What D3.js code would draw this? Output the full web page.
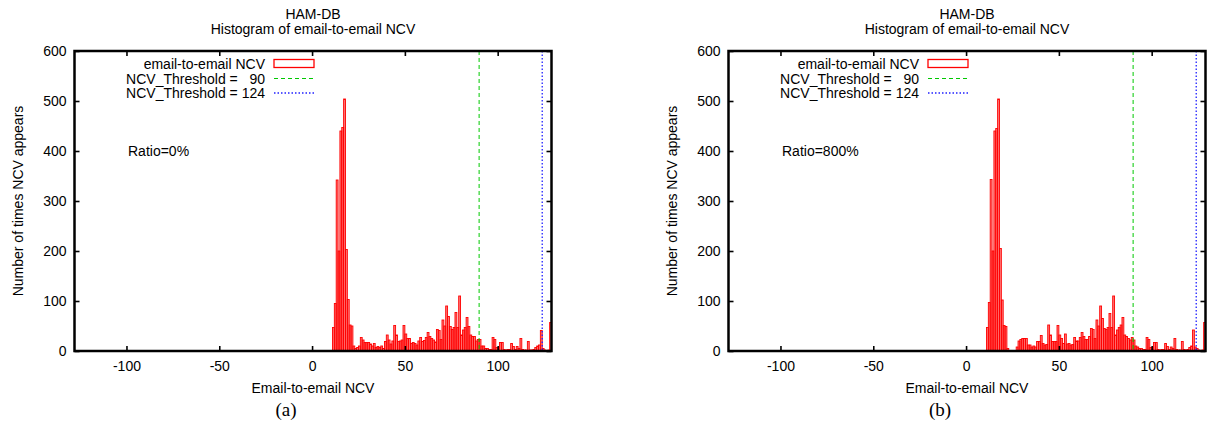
<!DOCTYPE html>
<html>
<head>
<meta charset="utf-8">
<script src="https://cdn.jsdelivr.net/npm/d3@7"></script>
<style>
body { margin: 0; background: #fff; }
text { font-family: "Liberation Sans", Arial, Helvetica, sans-serif; fill: #000; }
</style>
</head>
<body>
<svg id="canvas" width="1213" height="430"></svg>
<script>
// first NCV bin of the histogram, every count below belongs to one bin of width 1
let binStart = 11

// counts per NCV bin, 11 .. 128, panel (a) ratio 0%
let countsA = [
  47, 95, 342, 200, 440, 447, 504, 203, 103, 52,
  50, 10, 5, 7, 10, 27, 22, 17, 17, 17,
  14, 10, 15, 7, 9, 7, 10, 5, 19, 32,
  22, 14, 20, 51, 32, 19, 20, 22, 51, 34,
  25, 25, 15, 17, 15, 12, 20, 27, 19, 21,
  27, 37, 29, 25, 22, 18, 43, 41, 23, 62,
  50, 90, 69, 49, 43, 47, 77, 47, 110, 32,
  42, 47, 67, 49, 32, 29, 29, 20, 23, 23,
  10, 10, 5, 5, 3, 3, 27, 23, 7, 2,
  17, 17, 3, 2, 3, 3, 15, 9, 3, 9,
  5, 25, 3, 2, 2, 19, 2, 2, 3, 7,
  10, 12, 41, 5, 2, 0, 2, 57
]

// counts per NCV bin, 11 .. 128, panel (b) ratio 800%
let countsB = [
  47, 97, 343, 200, 440, 445, 504, 205, 102, 51,
  49, 5, 0, 0, 0, 0, 8, 20, 23, 25,
  25, 25, 12, 12, 8, 10, 8, 19, 19, 31,
  15, 12, 13, 52, 32, 19, 19, 19, 51, 32,
  25, 15, 34, 14, 15, 12, 13, 27, 20, 20,
  27, 37, 29, 23, 23, 29, 45, 43, 25, 62,
  50, 90, 65, 45, 43, 47, 75, 47, 110, 32,
  42, 47, 52, 67, 32, 29, 25, 22, 27, 22,
  10, 8, 5, 5, 3, 3, 27, 23, 7, 3,
  17, 17, 3, 2, 3, 3, 15, 9, 3, 8,
  5, 25, 3, 2, 2, 19, 3, 2, 3, 7,
  10, 42, 8, 5, 2, 0, 2, 57
]

let thresholds = [90, 124]
let xTicks = [-100, -50, 0, 50, 100]
let yTicks = [0, 100, 200, 300, 400, 500, 600]
let titleLines = ['HAM-DB', 'Histogram of email-to-email NCV']
let legendLabels = ['email-to-email NCV', 'NCV_Threshold =   90', 'NCV_Threshold = 124']
let ratioLabels = ['Ratio=0%', 'Ratio=800%']
let captions = ['(a)', '(b)']

let canvas = d3.select('#canvas')

let drawPanel = (left, counts, ratioText, caption) => {
    let width = 477
    let top = 51
    let bottom = 351
    let g = canvas.append('g')

    let x = d3.scaleLinear().domain([-128, 129]).range([left, left + width])
    let y = d3.scaleLinear().domain([0, 600]).range([bottom, top])

    // histogram boxes
    g.append('g')
        .selectAll('rect')
        .data(counts)
        .enter()
        .append('rect')
        .attr('x', (d, i) => x(binStart + i))
        .attr('width', (d, i) => x(binStart + i + 1) - x(binStart + i))
        .attr('y', (d) => y(d))
        .attr('height', (d) => y(0) - y(d))
        .attr('fill', 'rgba(255,30,30,0.6)')
        .attr('stroke', '#ff0000')
        .attr('stroke-width', 0.9)

    // threshold lines
    g.append('line')
        .attr('x1', x(thresholds[0])).attr('x2', x(thresholds[0]))
        .attr('y1', top).attr('y2', bottom)
        .attr('stroke', '#00c800').attr('stroke-width', 1)
        .attr('stroke-dasharray', '4,3')
    g.append('line')
        .attr('x1', x(thresholds[1])).attr('x2', x(thresholds[1]))
        .attr('y1', top).attr('y2', bottom)
        .attr('stroke', '#2020ff').attr('stroke-width', 1.3)
        .attr('stroke-dasharray', '1.5,2')

    // axes, ticks pointing inward on all four sides
    let plain = (d) => String(d)
    let bottomAxis = g.append('g')
        .attr('transform', 'translate(0,' + bottom + ')')
        .call(d3.axisBottom(x).tickValues(xTicks).tickSizeInner(-5).tickSizeOuter(0).tickPadding(10).tickFormat(plain))
    let topAxis = g.append('g')
        .attr('transform', 'translate(0,' + top + ')')
        .call(d3.axisTop(x).tickValues(xTicks).tickSizeInner(-5).tickSizeOuter(0).tickFormat(''))
    let leftAxis = g.append('g')
        .attr('transform', 'translate(' + left + ',0)')
        .call(d3.axisLeft(y).tickValues(yTicks).tickSizeInner(-5).tickSizeOuter(0).tickPadding(8).tickFormat(plain))
    let rightAxis = g.append('g')
        .attr('transform', 'translate(' + (left + width) + ',0)')
        .call(d3.axisRight(y).tickValues(yTicks).tickSizeInner(-5).tickSizeOuter(0).tickFormat(''))

    ;[bottomAxis, topAxis, leftAxis, rightAxis].forEach((a) => {
        a.select('.domain').remove()
        a.selectAll('line').attr('stroke', '#000').attr('stroke-width', 1.6)
        a.selectAll('text').attr('font-size', 14).attr('font-family', '"Liberation Sans", Arial, sans-serif')
    })

    // border
    g.append('rect')
        .attr('x', left).attr('y', top)
        .attr('width', width).attr('height', bottom - top)
        .attr('fill', 'none').attr('stroke', '#000').attr('stroke-width', 2.5)

    // title
    titleLines.forEach((t, i) => {
        g.append('text')
            .attr('x', left + width / 2).attr('y', 19 + i * 15)
            .attr('text-anchor', 'middle').attr('font-size', 14)
            .text(t)
    })

    // legend
    let keyX = left + 199.5
    let rows = [63.5, 78.5, 93]
    legendLabels.forEach((t, i) => {
        g.append('text')
            .attr('x', left + 190.5).attr('y', rows[i] + 5)
            .attr('text-anchor', 'end').attr('font-size', 14)
            .style('white-space', 'pre')
            .text(t)
    })
    g.append('rect')
        .attr('x', keyX).attr('y', rows[0] - 4)
        .attr('width', 40).attr('height', 8)
        .attr('fill', '#fff').attr('stroke', '#ff0000').attr('stroke-width', 1.3)
    g.append('line')
        .attr('x1', keyX).attr('x2', keyX + 40)
        .attr('y1', rows[1]).attr('y2', rows[1])
        .attr('stroke', '#00c800').attr('stroke-width', 1)
        .attr('stroke-dasharray', '4,3')
    g.append('line')
        .attr('x1', keyX).attr('x2', keyX + 40)
        .attr('y1', rows[2]).attr('y2', rows[2])
        .attr('stroke', '#2020ff').attr('stroke-width', 1.3)
        .attr('stroke-dasharray', '1.5,2')

    // ratio label
    g.append('text')
        .attr('x', left + 53.5).attr('y', 156)
        .attr('font-size', 14)
        .text(ratioText)

    // axis titles
    g.append('text')
        .attr('x', left + width / 2).attr('y', 393)
        .attr('text-anchor', 'middle').attr('font-size', 14)
        .text('Email-to-email NCV')
    g.append('text')
        .attr('transform', 'translate(' + (left - 52) + ',201) rotate(-90)')
        .attr('text-anchor', 'middle').attr('font-size', 14)
        .text('Number of times NCV appears')

    // sub-figure caption
    g.append('text')
        .attr('x', left + 211.5).attr('y', 416)
        .attr('text-anchor', 'middle').attr('font-size', 19)
        .style('font-family', '"Liberation Serif", "DejaVu Serif", serif')
        .text(caption)
}

drawPanel(74.5, countsA, ratioLabels[0], captions[0])
drawPanel(728.5, countsB, ratioLabels[1], captions[1])
</script>
</body>
</html>
